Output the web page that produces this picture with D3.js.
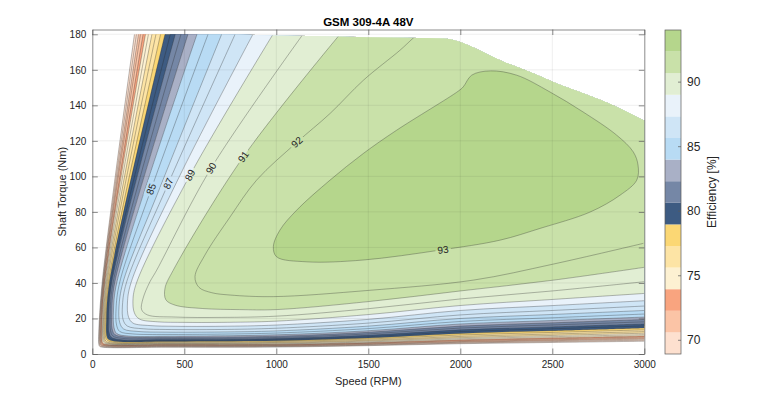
<!DOCTYPE html>
<html><head><meta charset="utf-8">
<script src="https://cdn.jsdelivr.net/npm/d3@7"></script>
<style>body{margin:0;background:#fff}svg{display:block}text{font-family:"Liberation Sans",Arial,Helvetica,sans-serif}</style>
</head><body><svg id="c" width="770" height="398"></svg>
<script>
// ---------------- data ----------------
const title = "GSM 309-4A 48V";
const xLabel = "Speed (RPM)";
const yLabel = "Shaft Torque (Nm)";
const cLabel = "Efficiency [%]";
const speedTicks = [0, 500, 1000, 1500, 2000, 2500, 3000];
const torqueTicks = [0, 20, 40, 60, 80, 100, 120, 140, 160, 180];
const cbarTicks = [70, 75, 80, 85, 90];
const cbarRange = [68.9, 94.0];
const cbarColors = ["#fde0cf","#fbc4a6","#f9a47f","#fdf1d2","#fde4a5","#fbd774","#3d5b82","#7587a6",
                    "#a9b0c6","#b8dbf4","#cfe5f6","#e9f2fa","#e1eed3","#c9e1a9","#b5d68c"];
// maximum torque envelope
const envelopeSpeed  = [0, 700, 1000, 1500, 1926, 1998, 2100, 2216, 2395, 2504, 2667, 2851, 3000];
const envelopeTorque = [180, 180, 179.3, 178.4, 177.5, 175.7, 171.2, 165.4, 158.1, 153.2, 146.8, 139.1, 131.3];
// efficiency contour levels (%) and their iso-lines as [speed, torque] points
const levels = [69,70,71,72,73,74,75,76,77,78,79,80,81,82,83,84,85,86,87,88,89,90,91,92];
const contourPaths = [
 [[229,180],[53.4,40],[35,11.8],[35,5.7],[39,4.4],[50,3.9],[400,3.8],[1000,3.9],[1500,4.7],[2000,5.8],[2500,6.5],[3000,7.2]],
 [[240,180],[56,40],[38,12.4],[38,6.2],[42,4.7],[55,4.15],[400,4.1],[1000,4.2],[1500,5.0],[2000,6.2],[2500,7.0],[3000,7.8]],
 [[251,180],[58.6,40],[41,12.9],[41.5,6.6],[46,5.1],[61,4.45],[400,4.4],[1000,4.5],[1500,5.35],[2000,6.6],[2500,7.5],[3000,8.4]],
 [[262,180],[61.1,40],[45,13.5],[44.5,7.1],[50,5.4],[66,4.8],[400,4.7],[1000,4.8],[1500,5.7],[2000,7.0],[2500,8.0],[3000,9.0]],
 [[276,180],[64.4,40],[48,14.1],[48.5,7.5],[54,5.7],[72,5.05],[400,5.0],[1000,5.1],[1500,6.05],[2000,7.5],[2500,8.55],[3000,9.6]],
 [[289,180],[67.5,40],[52,14.6],[52,8.0],[58,6.1],[77,5.35],[400,5.3],[1000,5.4],[1500,6.4],[2000,8.0],[2500,9.1],[3000,10.2]],
 [[305,180],[71.2,40],[56,15.2],[56.5,8.4],[63,6.5],[84,5.7],[400,5.6],[1000,5.7],[1500,6.8],[2000,8.6],[2500,9.75],[3000,10.9]],
 [[324,180],[75.6,40],[60,16.0],[61,9.0],[68,6.9],[91,5.95],[400,5.9],[1000,6.1],[1500,7.3],[2000,9.2],[2500,10.45],[3000,11.7]],
 [[346,180],[80.7,40],[65,16.9],[66,9.6],[73,7.3],[99,6.3],[400,6.25],[1000,6.5],[1500,7.8],[2000,9.9],[2500,11.25],[3000,12.6]],
 [[371,180],[86.6,40],[70,17.7],[71,10.1],[80,7.9],[108,6.7],[400,6.65],[1000,7.0],[1500,8.4],[2000,10.7],[2500,12.15],[3000,13.6]],
 [[395,180],[92.2,40],[76,18.6],[77,10.8],[86,8.4],[118,7.15],[400,7.1],[1000,7.5],[1500,9.0],[2000,11.6],[2500,13.15],[3000,14.7]],
 [[424,180],[99,40],[83,19.7],[84,11.5],[93,9.0],[129,7.65],[400,7.6],[1000,8.1],[1500,9.7],[2000,12.6],[2500,14.2],[3000,15.8]],
 [[451,180],[105.3,40],[90,20.8],[91,12.4],[102,9.6],[142,8.2],[400,8.1],[1000,8.7],[1500,10.5],[2000,13.6],[2500,15.25],[3000,16.9]],
 [[482,180],[112.5,40],[97,21.9],[99,13.2],[111,10.2],[159,8.85],[400,8.7],[1000,9.3],[1500,11.3],[2000,14.6],[2500,16.35],[3000,18.1]],
 [[520,180],[121.4,40],[106,23.1],[108,14.1],[122,11.0],[178,9.6],[400,9.4],[1000,10.0],[1500,12.2],[2000,15.7],[2500,17.55],[3000,19.4]],
 [[569,180],[132.7,40],[115,24.2],[118,14.9],[133,11.5],[197,10.1],[400,10.0],[1000,10.8],[1500,13.1],[2000,16.9],[2500,18.85],[3000,20.8]],
 [[629,180],[320,92.8],[148,40],[129,25.3],[132,16.3],[149,12.7],[221,11.3],[400,11.0],[700,11.2],[1000,11.8],[1500,14.3],[2000,18.3],[2500,20.4],[3000,22.5]],
 [[703,180],[365,93],[166,40],[145,26.4],[149,17.7],[170,14.1],[248,12.7],[400,12.3],[700,12.4],[1000,13.0],[1500,15.7],[2000,20.0],[2500,22.25],[3000,24.5]],
 [[776,180],[413,96],[185,40],[164,27.6],[168,19.1],[191,15.7],[276,14.2],[400,13.8],[700,13.8],[1000,14.5],[1500,17.4],[2000,22.0],[2500,24.5],[3000,27.0]],
 [[873,180],[477,100.7],[210,40],[191,28.7],[197,20.8],[221,17.4],[314,16.0],[450,15.6],[700,15.6],[1000,16.3],[1500,19.5],[2000,24.5],[2500,27.25],[3000,30.0]],
 [[982,180],[531,100.7],[240,40],[221,30.4],[229,23.1],[256,19.7],[357,18.1],[500,17.8],[700,17.8],[1000,18.5],[1500,22.2],[2000,27.3],[2500,30.7],[3000,34.1]],
 [[1145,180],[645,104.5],[350,47.2],[310,40],[275,31],[268,25],[300,22],[450,20.8],[700,20.6],[1000,21.3],[1500,25.5],[2000,31],[2500,35.5],[3000,40.7]],
 [[1346,180],[821,111],[440,47.2],[395,37],[400,30.5],[450,27.5],[600,25.6],[800,25.0],[1000,25.0],[1500,29.5],[2000,35.5],[2500,41.5],[3000,48.8]],
 [[1800,183],[1737,177.2],[1672,171],[1473,154.1],[1292,135.4],[1112,119.2],[893,97.9],[749,77.2],[612,55.7],[558,43.5],[580,37.5],[650,34.5],[749,33.2],[984,32.3],[1500,35.8],[2071,41.6],[2500,50.5],[2995,62.3]]
];
// closed peak-efficiency island
const peakLevel = 93;
const peakRegion = [[1002,54.7],[1165,51.9],[1471,52.9],[1890,58.5],[2216,64.1],[2433,70.7],[2705,79.9],[2868,89.4],
 [2959,97.9],[2966,106.3],[2940,113.8],[2850,123.2],[2667,136.3],[2488,147.5],[2306,157],[2163,159.4],[2062,157],
 [2016,150.4],[1989,148],[1654,126],[1473,112.9],[1292,97.9],[1111,81],[1020,69.8],[984,60.4]];
// inline contour labels
const labelLevels = [85, 87, 89, 90, 91, 92, 93];
const labelSpeed  = [320, 413, 531, 645, 821, 1112, 1906];
const labelTorque = [92.8, 96, 100.7, 104.5, 111, 119.2, 59];

// ---------------- layout ----------------
const plot = {l: 92.3, r: 644.3, t: 29.5, b: 354};
const x = d3.scaleLinear([0, 3000], [plot.l, plot.r]);
const y = d3.scaleLinear([0, 182.7], [plot.b, plot.t]);
const color = d3.scaleQuantize(cbarRange, cbarColors);
const ink = "#262626";
const axisInk = "#5a5a5a";

const svg = d3.select("#c");
const defs = svg.append("defs");

const envPts = envelopeSpeed.map((s, i) => [s, envelopeTorque[i]]);
const envLine = d3.line().x(d => x(d[0])).y(d => y(d[1])).curve(d3.curveMonotoneX);
defs.append("clipPath").attr("id", "env").append("path")
  .attr("d", envLine(envPts) + `L${x(3000)},${y(0)}L${x(0)},${y(0)}Z`);

const curve = d3.line().x(d => x(d[0])).y(d => y(d[1])).curve(d3.curveCatmullRom.alpha(0.5));
const closedCurve = d3.line().x(d => x(d[0])).y(d => y(d[1])).curve(d3.curveCatmullRomClosed.alpha(0.5));

// filled bands
const fills = svg.append("g").attr("clip-path", "url(#env)");
levels.forEach((L, i) => {
  const pts = contourPaths[i];
  const last = pts[pts.length - 1];
  fills.append("path")
    .attr("d", curve(pts) + `L${x(3300)},${y(last[1])}L${x(3300)},${y(200)}L${x(pts[0][0])},${y(200)}Z`)
    .attr("fill", color(L));
});
fills.append("path").attr("d", closedCurve(peakRegion)).attr("fill", color(peakLevel));

// label mask
const mask = defs.append("mask").attr("id", "lm").attr("maskUnits", "userSpaceOnUse")
  .attr("x", 0).attr("y", 0).attr("width", 770).attr("height", 398);
mask.append("rect").attr("width", 770).attr("height", 398).attr("fill", "#fff");

// contour lines
const lineOuter = svg.append("g").attr("clip-path", "url(#env)");
const lineG = lineOuter.append("g").attr("mask", "url(#lm)")
  .attr("fill", "none").attr("stroke", "#2b2b2b").attr("stroke-width", 0.6).attr("stroke-opacity", 0.55);
const lineNodes = {};
levels.forEach((L, i) => { lineNodes[L] = lineG.append("path").attr("d", curve(contourPaths[i])).node(); });
lineNodes[peakLevel] = lineG.append("path").attr("d", closedCurve(peakRegion)).node();

// grid (on top)
const grid = svg.append("g").attr("stroke", ink).attr("stroke-opacity", 0.13).attr("stroke-width", 0.6);
speedTicks.slice(1, -1).forEach(v => grid.append("line").attr("x1", x(v)).attr("x2", x(v)).attr("y1", plot.t).attr("y2", plot.b));
torqueTicks.slice(1).forEach(v => grid.append("line").attr("x1", plot.l).attr("x2", plot.r).attr("y1", y(v)).attr("y2", y(v)));

// contour labels
function pose(node, px, py) {
  const len = node.getTotalLength();
  let best = 0, bd = Infinity;
  for (let l = 0; l <= len; l += 0.5) {
    const p = node.getPointAtLength(l);
    const d = (p.x - px) ** 2 + (p.y - py) ** 2;
    if (d < bd) { bd = d; best = l; }
  }
  const p = node.getPointAtLength(best);
  const a = node.getPointAtLength(Math.max(0, best - 5));
  const b = node.getPointAtLength(Math.min(len, best + 5));
  let ang = Math.atan2(b.y - a.y, b.x - a.x) * 180 / Math.PI;
  if (ang > 90) ang -= 180;
  if (ang < -90) ang += 180;
  return {x: p.x, y: p.y, ang};
}
const labG = svg.append("g");
labelLevels.forEach((L, i) => {
  const ps = pose(lineNodes[L], x(labelSpeed[i]), y(labelTorque[i]));
  const tr = `translate(${ps.x},${ps.y}) rotate(${ps.ang})`;
  const t = labG.append("text").attr("transform", tr).attr("text-anchor", "middle")
    .attr("dy", "0.35em").attr("font-size", 10).attr("fill", ink).text(L);
  const bb = t.node().getBBox();
  mask.append("rect").attr("transform", tr).attr("x", bb.x - 2).attr("y", bb.y).attr("width", bb.width + 4)
    .attr("height", bb.height).attr("fill", "#000");
});

// axes (box with inward ticks)
function styleAxis(g) {
  g.selectAll("path.domain").attr("stroke", axisInk).attr("stroke-width", 0.7).attr("fill", "none");
  g.selectAll(".tick line").attr("stroke", axisInk).attr("stroke-width", 0.7);
  g.selectAll(".tick text").attr("fill", ink).attr("font-size", 10).attr("font-family", '"Liberation Sans",Arial,sans-serif');
}
const fmt = d3.format("d");
svg.append("g").attr("transform", `translate(0,${plot.b})`)
  .call(d3.axisBottom(x).tickValues(speedTicks).tickFormat(fmt).tickSizeInner(-5.5).tickSizeOuter(0).tickPadding(7)).call(styleAxis);
svg.append("g").attr("transform", `translate(0,${plot.t})`)
  .call(d3.axisTop(x).tickValues(speedTicks).tickSizeInner(-5.5).tickSizeOuter(0).tickFormat("")).call(styleAxis);
svg.append("g").attr("transform", `translate(${plot.l},0)`)
  .call(d3.axisLeft(y).tickValues(torqueTicks).tickFormat(fmt).tickSizeInner(-5.5).tickSizeOuter(0).tickPadding(6)).call(styleAxis);
svg.append("g").attr("transform", `translate(${plot.r},0)`)
  .call(d3.axisRight(y).tickValues(torqueTicks).tickSizeInner(-5.5).tickSizeOuter(0).tickFormat("")).call(styleAxis);

// titles
svg.append("text").attr("x", (plot.l + plot.r) / 2).attr("y", 26).attr("text-anchor", "middle")
  .attr("font-size", 11.5).attr("font-weight", "bold").attr("fill", "#000").text(title);
svg.append("text").attr("x", (plot.l + plot.r) / 2).attr("y", 385).attr("text-anchor", "middle")
  .attr("font-size", 11).attr("fill", ink).text(xLabel);
svg.append("text").attr("transform", `translate(66,${(plot.t + plot.b) / 2}) rotate(-90)`).attr("text-anchor", "middle")
  .attr("font-size", 11).attr("fill", ink).text(yLabel);

// colorbar
const cb = {x: 665, w: 16, t: 30, b: 354};
const cy = d3.scaleLinear(cbarRange, [cb.b, cb.t]);
const cbg = svg.append("g");
cbarColors.forEach(c => {
  const [a, b] = color.invertExtent(c);
  cbg.append("rect").attr("x", cb.x).attr("width", cb.w).attr("y", cy(b)).attr("height", cy(a) - cy(b)).attr("fill", c);
});
cbg.append("rect").attr("x", cb.x).attr("y", cb.t).attr("width", cb.w).attr("height", cb.b - cb.t)
  .attr("fill", "none").attr("stroke", axisInk).attr("stroke-width", 0.7);
const cAxis = svg.append("g").attr("transform", `translate(${cb.x + cb.w},0)`)
  .call(d3.axisRight(cy).tickValues(cbarTicks).tickSizeInner(-3).tickSizeOuter(0).tickPadding(6));
cAxis.select(".domain").remove();
cAxis.selectAll(".tick line").attr("stroke", axisInk).attr("stroke-width", 0.7);
cAxis.selectAll(".tick text").attr("fill", ink).attr("font-size", 12).attr("font-family", '"Liberation Sans",Arial,sans-serif');
svg.append("text").attr("transform", `translate(716,${(cb.t + cb.b) / 2}) rotate(-90)`).attr("text-anchor", "middle")
  .attr("font-size", 12).attr("fill", ink).text(cLabel);
</script></body></html>
